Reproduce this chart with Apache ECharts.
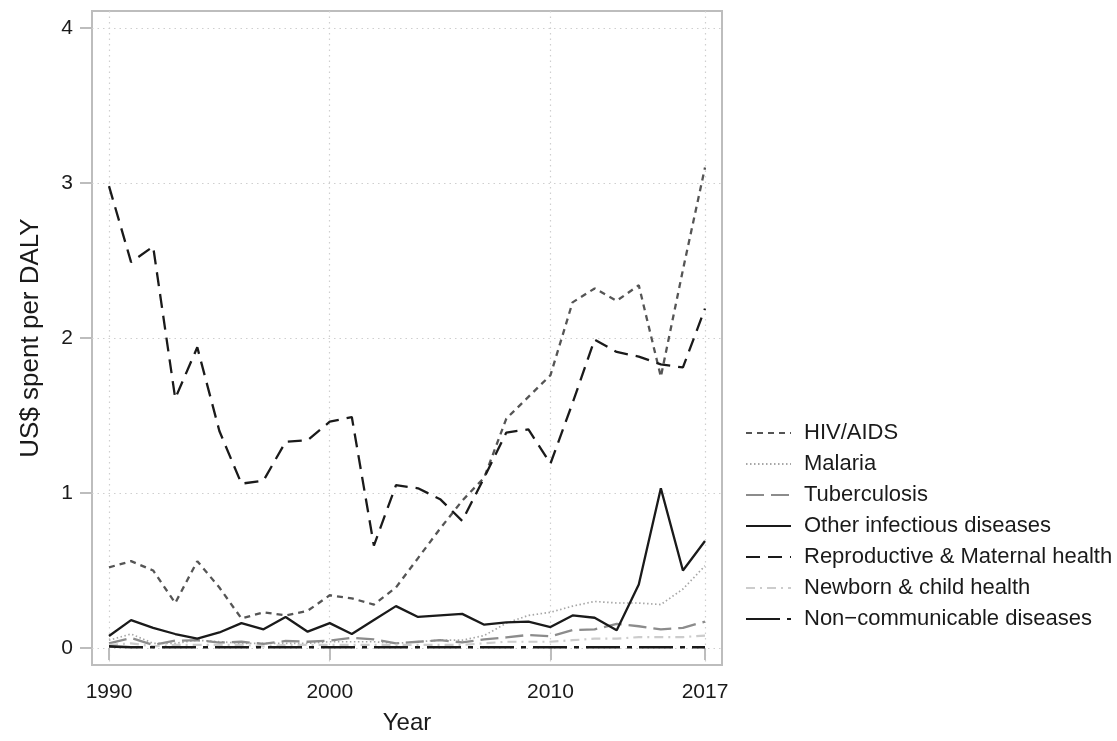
<!DOCTYPE html>
<html>
<head>
<meta charset="utf-8">
<script src="https://cdn.jsdelivr.net/npm/echarts@6/dist/echarts.min.js"></script>
<style>
html,body{margin:0;padding:0;background:#fff;}
#chart{width:1117px;height:741px;}
</style>
</head>
<body>
<div id="chart"></div>
<script>
const years = [1990,1991,1992,1993,1994,1995,1996,1997,1998,1999,2000,2001,2002,2003,2004,2005,2006,2007,2008,2009,2010,2011,2012,2013,2014,2015,2016,2017];
const xTickValues = [1990, 2000, 2010, 2017];
const yTickValues = [0, 1, 2, 3, 4];
const seriesNames = ["HIV/AIDS","Malaria","Tuberculosis","Other infectious diseases","Reproductive & Maternal health","Newborn & child health","Non\u2212communicable diseases"];

const hiv      = [0.52,0.56,0.50,0.29,0.56,0.39,0.19,0.23,0.21,0.24,0.34,0.32,0.28,0.39,0.58,0.77,0.95,1.10,1.48,1.62,1.76,2.23,2.32,2.24,2.34,1.75,2.44,3.10];
const malaria  = [0.05,0.09,0.03,0.03,0.05,0.04,0.03,0.03,0.03,0.03,0.04,0.04,0.04,0.03,0.04,0.05,0.05,0.08,0.16,0.21,0.23,0.27,0.30,0.29,0.29,0.28,0.38,0.53];
const tb       = [0.03,0.064,0.02,0.047,0.05,0.035,0.04,0.026,0.045,0.04,0.047,0.066,0.055,0.03,0.04,0.05,0.036,0.055,0.068,0.084,0.075,0.116,0.12,0.155,0.14,0.12,0.13,0.17];
const other    = [0.077,0.18,0.13,0.09,0.06,0.10,0.16,0.12,0.20,0.105,0.16,0.09,0.18,0.27,0.20,0.21,0.22,0.15,0.165,0.17,0.135,0.21,0.195,0.115,0.41,1.03,0.50,0.69];
const repro    = [2.98,2.49,2.59,1.61,1.94,1.40,1.06,1.08,1.33,1.34,1.46,1.49,0.66,1.05,1.03,0.96,0.82,1.10,1.39,1.41,1.19,1.58,1.99,1.91,1.88,1.83,1.81,2.19];
const newborn  = [0.02,0.03,0.01,0.02,0.02,0.02,0.02,0.01,0.02,0.02,0.02,0.02,0.02,0.02,0.02,0.02,0.02,0.03,0.04,0.04,0.04,0.05,0.06,0.06,0.07,0.07,0.07,0.08];
const ncd      = [0.01,0.005,0.005,0.005,0.005,0.005,0.005,0.005,0.005,0.005,0.005,0.005,0.005,0.005,0.005,0.005,0.005,0.005,0.005,0.005,0.005,0.005,0.005,0.005,0.005,0.005,0.005,0.005];

const FONT = "'Liberation Sans', Arial, sans-serif";
const pairs = arr => years.map((y, i) => [y, arr[i]]);

const styles = [
  {data: hiv,     color: '#555555', width: 2.3, type: [6, 5]},
  {data: malaria, color: '#a6a6a6', width: 1.7, type: [1.5, 2.5]},
  {data: tb,      color: '#8c8c8c', width: 2.3, type: [18, 7]},
  {data: other,   color: '#1a1a1a', width: 2.3, type: 'solid'},
  {data: repro,   color: '#1a1a1a', width: 2.3, type: [14, 8]},
  {data: newborn, color: '#cccccc', width: 2.2, type: [9, 5, 2, 5]},
  {data: ncd,     color: '#1a1a1a', width: 2.6, type: [34, 7, 5, 7]}
];

const series = styles.map((s, i) => ({
  name: seriesNames[i],
  type: 'line',
  data: pairs(s.data),
  showSymbol: false,
  symbol: 'none',
  smooth: false,
  lineStyle: {color: s.color, width: s.width, type: s.type, cap: 'butt'},
  itemStyle: {color: s.color},
  z: 3 + i,
  silent: true,
  animation: false
}));

const chart = echarts.init(document.getElementById('chart'), null, {renderer: 'canvas'});
chart.setOption({
  animation: false,
  backgroundColor: '#ffffff',
  textStyle: {fontFamily: FONT},
  grid: {
    left: 92, top: 11, right: 395, bottom: 76,
    show: true, borderColor: '#bdbdbd', borderWidth: 2, backgroundColor: 'transparent'
  },
  legend: {
    orient: 'vertical',
    left: 745, top: 421,
    padding: 0,
    itemWidth: 45, itemHeight: 24, itemGap: 7,
    itemStyle: {opacity: 0},
    data: seriesNames,
    textStyle: {fontFamily: FONT, fontSize: 22, color: '#1a1a1a', padding: [0, 0, 0, 8], lineHeight: 24},
    selectedMode: false
  },
  xAxis: {
    type: 'value',
    min: 1989.23, max: 2017.77,
    name: 'Year',
    nameLocation: 'middle',
    nameGap: 46,
    nameTextStyle: {fontFamily: FONT, fontSize: 24, color: '#1a1a1a'},
    axisLine: {show: false},
    axisTick: {show: true, length: 12, lineStyle: {color: '#bdbdbd', width: 2}, customValues: xTickValues},
    axisLabel: {show: true, margin: 17, fontSize: 21, color: '#1a1a1a', fontFamily: FONT, customValues: xTickValues, formatter: v => String(v)},
    splitLine: {show: true, lineStyle: {color: '#cfcfcf', width: 1.2, type: [1.5, 4]}, customValues: xTickValues}
  },
  yAxis: {
    type: 'value',
    min: -0.11, max: 4.11,
    name: 'US$ spent per DALY',
    nameLocation: 'middle',
    nameGap: 48,
    nameRotate: 90,
    nameTextStyle: {fontFamily: FONT, fontSize: 26, color: '#1a1a1a'},
    axisLine: {show: false},
    axisTick: {show: true, length: 12, lineStyle: {color: '#bdbdbd', width: 2}, customValues: yTickValues},
    axisLabel: {show: true, margin: 19, fontSize: 21, color: '#1a1a1a', fontFamily: FONT, customValues: yTickValues, formatter: v => String(v)},
    splitLine: {show: true, lineStyle: {color: '#cfcfcf', width: 1.2, type: [1.5, 4]}, customValues: yTickValues}
  },
  series: series
});
</script>
</body>
</html>
